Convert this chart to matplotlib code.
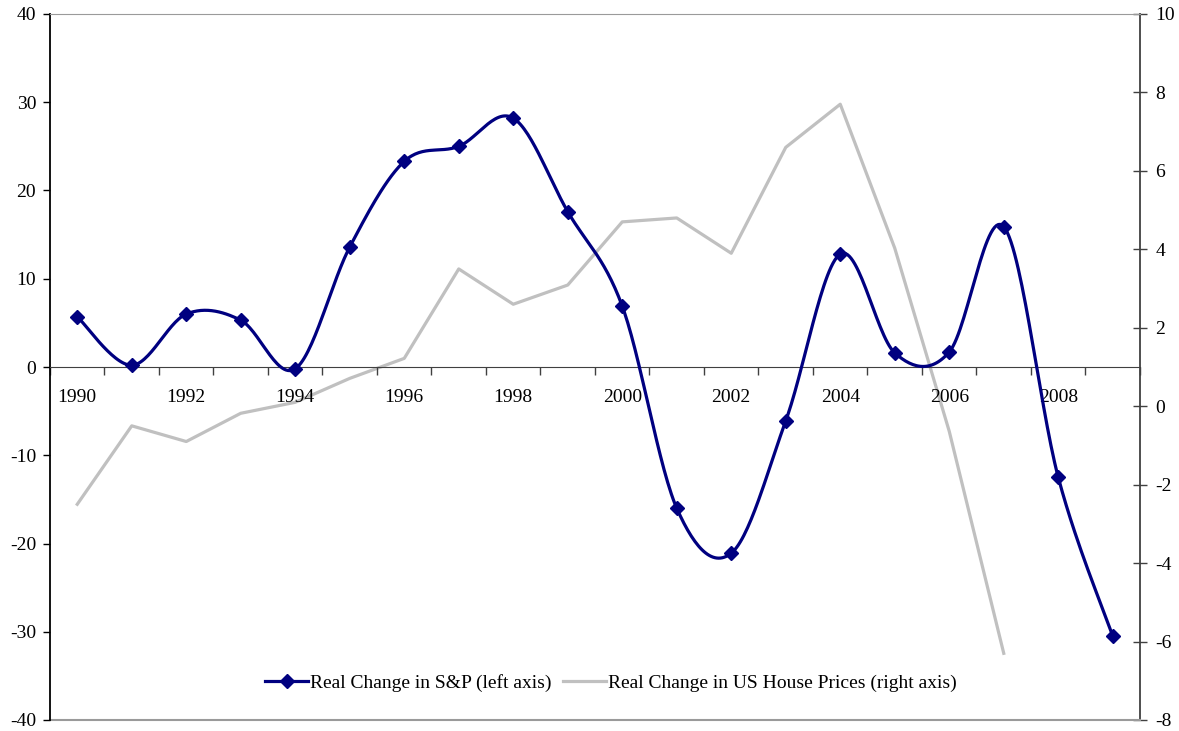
import numpy as np
import matplotlib
matplotlib.use("Agg")
import matplotlib.pyplot as plt
from matplotlib.lines import Line2D

years = list(range(1990, 2010))
sp_change = [5.7, 0.2, 6.0, 5.3, -0.2, 13.6, 23.3, 25.0, 28.2, 17.6,
             6.9, -16.0, -21.1, -6.1, 12.8, 1.6, 1.7, 15.9, -12.5, -30.5]
house_years = list(range(1990, 2008))
house_change = [-2.5, -0.5, -0.9, -0.18, 0.1, 0.71, 1.22, 3.5, 2.6, 3.09,
                4.7, 4.8, 3.9, 6.6, 7.7, 4.03, -0.64, -6.3]
xtick_labels = [str(y) for y in range(1990, 2010, 2)]

plt.rcParams['font.family'] = ['Liberation Serif', 'DejaVu Serif']
plt.rcParams['axes.unicode_minus'] = False
FS = 14

def smooth(x, y, n=30):
    # Catmull-Rom style Bezier smoothing (like spreadsheet smoothed lines)
    x = np.asarray(x, float); y = np.asarray(y, float)
    px, py = [], []
    m = len(x)
    for i in range(m - 1):
        x0, y0 = (x[i-1], y[i-1]) if i > 0 else (x[i], y[i])
        x1, y1 = x[i], y[i]
        x2, y2 = x[i+1], y[i+1]
        x3, y3 = (x[i+2], y[i+2]) if i + 2 < m else (x[i+1], y[i+1])
        c1x, c1y = x1 + (x2 - x0) / 6, y1 + (y2 - y0) / 6
        c2x, c2y = x2 - (x3 - x1) / 6, y2 - (y3 - y1) / 6
        t = np.linspace(0, 1, n, endpoint=(i == m - 2))
        b0 = (1-t)**3; b1 = 3*(1-t)**2*t; b2 = 3*(1-t)*t**2; b3 = t**3
        px.extend(b0*x1 + b1*c1x + b2*c2x + b3*x2)
        py.extend(b0*y1 + b1*c1y + b2*c2y + b3*y2)
    return np.array(px), np.array(py)

fig = plt.figure(figsize=(11.79, 7.31), dpi=100)
ax = fig.add_axes([50/1179, 1 - 720/731, 1090/1179, 706/731])
ax2 = ax.twinx()

# house prices on right axis (drawn below)
ax2.plot(house_years, house_change, color='#C0C0C0', lw=2.3, zorder=2)
ax2.set_ylim(-8, 10)
ax2.set_yticks(range(-8, 11, 2))
ax2.tick_params(axis='y', direction='inout', length=10, width=1, color='#404040',
                labelsize=FS, pad=6)
for s in ['left', 'top', 'bottom']:
    ax2.spines[s].set_visible(False)
ax2.spines['right'].set_color('#404040')
ax2.spines['right'].set_linewidth(1.3)

ax.set_zorder(ax2.get_zorder() + 1)
ax.patch.set_visible(False)

sx, sy = smooth(years, sp_change)
ax.plot(sx, sy, color='#000080', lw=2.3, zorder=3)
ax.plot(years, sp_change, ls='none', marker='D', ms=7, color='#000080', zorder=4)

ax.set_xlim(1989.5, 2009.5)
ax.set_ylim(-40, 40)
ax.set_yticks(range(-40, 41, 10))
ax.tick_params(axis='y', direction='out', length=5, width=1, labelsize=FS, pad=5)

ax.spines['bottom'].set_position(('data', 0))
ax.spines['bottom'].set_color('#404040')
ax.spines['right'].set_visible(False)
ax.spines['top'].set_color('#9a9a9a')
ax.spines['left'].set_color('black')
ax.spines['left'].set_linewidth(1.3)
ax.axhline(-40, color='#9a9a9a', lw=1.5, clip_on=False, zorder=1)

ax.set_xticks(np.arange(1989.5, 2010, 1.0))
ax.set_xticklabels([])
ax.tick_params(axis='x', which='major', direction='out', length=6, width=1, color='#404040')
ax.set_xticks(list(range(1990, 2010, 2)), minor=True)
ax.set_xticklabels(xtick_labels, minor=True)
ax.tick_params(axis='x', which='minor', length=0, labelsize=FS, pad=16)

handles = [Line2D([], [], color='#000080', lw=2.3, marker='D', ms=7),
           Line2D([], [], color='#C0C0C0', lw=2.3)]
ax.legend(handles, ['Real Change in S&P (left axis)',
                    'Real Change in US House Prices (right axis)'],
          loc='center', frameon=False,
          ncol=2, fontsize=FS, handlelength=2.2, handletextpad=0.1,
          columnspacing=0.6,
          bbox_to_anchor=((611 - 50) / 1090, (720 - 683) / 706),
          bbox_transform=ax.transAxes)

fig.savefig('out.png', dpi=100)
